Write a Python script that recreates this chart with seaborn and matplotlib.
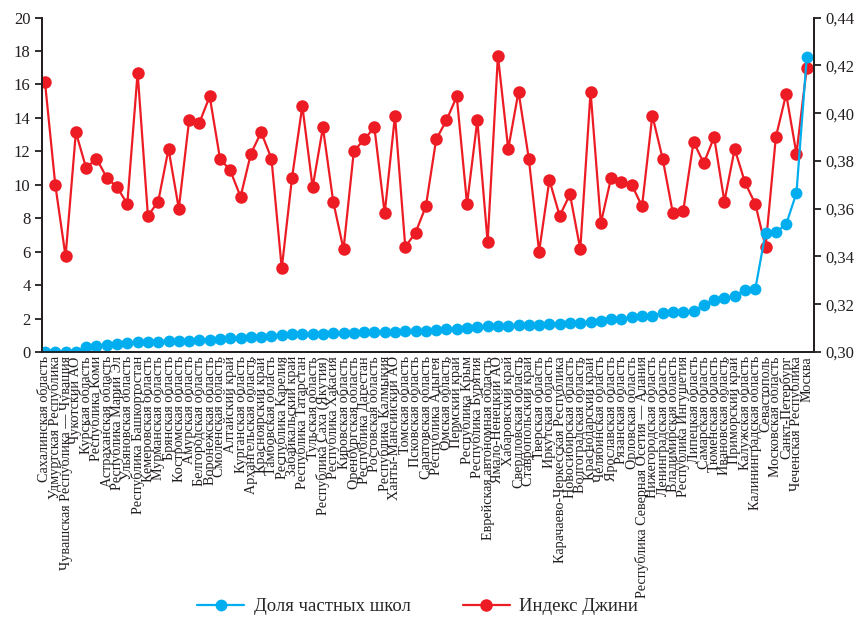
import numpy as np
import pandas as pd
import matplotlib
matplotlib.use("Agg")
import matplotlib.pyplot as plt
import seaborn as sns
from matplotlib.ticker import FuncFormatter


regions = [
    "Сахалинская область", "Удмуртская Республика", "Чувашская Республика — Чувашия",
    "Чукотский АО", "Курская область", "Республика Коми", "Астраханская область",
    "Республика Марий Эл", "Ульяновская область", "Республика Башкортостан",
    "Кемеровская область", "Мурманская область", "Брянская область",
    "Костромская область", "Амурская область", "Белгородская область",
    "Воронежская область", "Смоленская область", "Алтайский край",
    "Курганская область", "Архангельская область", "Красноярский край",
    "Тамбовская область", "Республика Карелия", "Забайкальский край",
    "Республика Татарстан", "Тульская область", "Республика Саха (Якутия)",
    "Республика Хакасия", "Кировская область", "Оренбургская область",
    "Республика Дагестан", "Ростовская область", "Республика Калмыкия",
    "Ханты-Мансийский АО", "Томская область", "Псковская область",
    "Саратовская область", "Республика Адыгея", "Омская область",
    "Пермский край", "Республика Крым", "Республика Бурятия",
    "Еврейская автономная область", "Ямало-Ненецкий АО", "Хабаровский край",
    "Свердловская область", "Ставропольский край", "Тверская область",
    "Иркутская область", "Карачаево-Черкесская Республика", "Новосибирская область",
    "Волгоградская область", "Краснодарский край", "Челябинская область",
    "Ярославская область", "Рязанская область", "Орловская область",
    "Республика Северная Осетия — Алания", "Нижегородская область",
    "Ленинградская область", "Владимирская область", "Республика Ингушетия",
    "Липецкая область", "Самарская область", "Тюменская область",
    "Ивановская область", "Приморский край", "Калужская область",
    "Калининградская область", "Севастополь", "Московская область",
    "Санкт-Петербург", "Чеченская Республика", "Москва",
]

# доля частных школ, %
private_share = [
    0.0, 0.0, 0.0, 0.02, 0.28, 0.38, 0.44, 0.46, 0.54, 0.58,
    0.60, 0.62, 0.64, 0.66, 0.68, 0.72, 0.74, 0.78, 0.85, 0.86,
    0.88, 0.92, 0.96, 1.01, 1.05, 1.05, 1.07, 1.09, 1.11, 1.11,
    1.13, 1.17, 1.17, 1.19, 1.21, 1.25, 1.27, 1.28, 1.31, 1.35,
    1.35, 1.43, 1.49, 1.53, 1.53, 1.55, 1.59, 1.59, 1.61, 1.67,
    1.67, 1.71, 1.73, 1.79, 1.87, 1.95, 1.99, 2.07, 2.13, 2.13,
    2.35, 2.39, 2.41, 2.45, 2.81, 3.09, 3.22, 3.36, 3.68, 3.76,
    7.14, 7.18, 7.64, 9.51, 17.63,
]

# индекс Джини
gini = [
    0.413, 0.370, 0.340, 0.392, 0.377, 0.381, 0.373, 0.369, 0.362, 0.417,
    0.357, 0.363, 0.385, 0.360, 0.397, 0.396, 0.407, 0.381, 0.376, 0.365,
    0.383, 0.392, 0.381, 0.335, 0.373, 0.403, 0.369, 0.394, 0.363, 0.343,
    0.384, 0.389, 0.394, 0.358, 0.399, 0.344, 0.350, 0.361, 0.389, 0.397,
    0.407, 0.362, 0.397, 0.346, 0.424, 0.385, 0.409, 0.381, 0.342, 0.372,
    0.357, 0.366, 0.343, 0.409, 0.354, 0.373, 0.371, 0.370, 0.361, 0.399,
    0.381, 0.358, 0.359, 0.388, 0.379, 0.390, 0.363, 0.385, 0.371, 0.362,
    0.344, 0.390, 0.408, 0.383, 0.419,
]

left_ticks = list(range(0, 21, 2))
right_ticks = [0.30, 0.32, 0.34, 0.36, 0.38, 0.40, 0.42, 0.44]

BLUE = "#00AEEF"
RED = "#ED1C24"
INK = "#231F20"

sns.set_style("ticks")
plt.rcParams["font.family"] = ["Liberation Serif", "DejaVu Serif"]

df = pd.DataFrame({
    "pos": np.arange(len(regions)),
    "region": regions,
    "share": private_share,
    "gini": gini,
})

fig = plt.figure(figsize=(8.56, 6.29), dpi=100)
ax = fig.add_axes([0.0487, 0.4404, 0.9023, 0.5316])
ax2 = ax.twinx()

sns.lineplot(data=df, x="pos", y="gini", ax=ax2, color=RED, marker="o",
             markersize=9, linewidth=1.6, markeredgewidth=0,
             label="Индекс Джини", legend=False)
sns.lineplot(data=df, x="pos", y="share", ax=ax, color=BLUE, marker="o",
             markersize=8.5, linewidth=1.6, markeredgewidth=0,
             label="Доля частных школ", legend=False)

# синяя линия поверх красной
ax.set_zorder(ax2.get_zorder() + 1)
ax.patch.set_visible(False)

ax.set_xlim(-0.32, len(regions) - 1 + 0.71)
ax.set_ylim(0, 20)
ax2.set_ylim(0.30, 0.44)
ax.set_yticks(left_ticks)
ax2.set_yticks(right_ticks)
ax2.yaxis.set_major_formatter(FuncFormatter(lambda v, _: f"{v:.2f}".replace(".", ",")))

ax.set_xticks(df["pos"])
ax.set_xticklabels(regions, rotation=90, ha="center", va="top", fontsize=10.2, color=INK)
ax.tick_params(axis="x", length=0, pad=3)
ax.tick_params(axis="y", labelsize=12, colors=INK, length=5, width=1.3, pad=3)
ax2.tick_params(axis="y", labelsize=12, colors=INK, length=5, width=1.3, pad=3)
ax.set_xlabel("")
ax.set_ylabel("")
ax2.set_ylabel("")

for a in (ax, ax2):
    a.spines["top"].set_visible(False)
    for side in ("left", "right", "bottom"):
        a.spines[side].set_color(INK)
        a.spines[side].set_linewidth(1.3)

handles = ax.get_lines()[:1] + ax2.get_lines()[:1]
fig.legend(handles, ["Доля частных школ", "Индекс Джини"], loc="lower center",
           bbox_to_anchor=(0.488, -0.005), ncol=2, frameon=False, fontsize=13.5,
           handlelength=2.5, handletextpad=0.5, columnspacing=2.8)

fig.savefig("out.png", dpi=100)
plt.close(fig)
